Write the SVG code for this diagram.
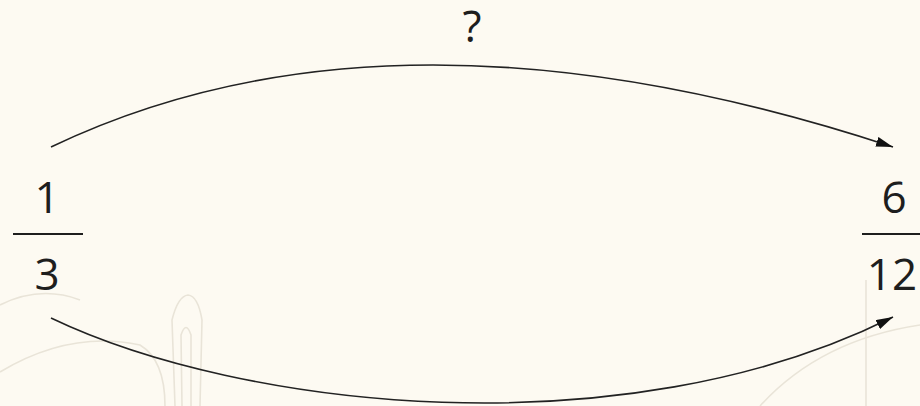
<svg xmlns="http://www.w3.org/2000/svg" width="920" height="406" viewBox="0 0 920 406">
  <style>
    .num { font-family: "Open Sans", "Noto Sans", sans-serif; font-size: 44px; fill: #1e1e1e; text-anchor: middle; }
    .bar { stroke: #1e1e1e; stroke-width: 2.2; }
    .arc { fill: none; stroke: #222; stroke-width: 1.6; }
    .bgsketch { fill: none; stroke: #e9e4d8; stroke-width: 1.6; }
  </style>
  <defs>
    <marker id="arrow" markerUnits="userSpaceOnUse" markerWidth="18" markerHeight="10" refX="17" refY="5" orient="auto">
      <path d="M0,0 L17,5 L0,10 z" fill="#111"/>
    </marker>
  </defs>
  <rect x="0" y="0" width="920" height="406" fill="#fdfaf2"/>
  <g id="background">
    <path class="bgsketch" d="M0,305 Q40,285 80,300"/>
    <path class="bgsketch" d="M0,372 Q70,330 140,345 Q165,360 165,406"/>
    <path class="bgsketch" d="M175,406 L172,320 Q178,296 188,295 Q198,296 202,320 L200,406"/>
    <path class="bgsketch" d="M182,406 L181,335 Q186,320 191,335 L191,406"/>
    <path class="bgsketch" d="M866,280 L866,406"/>
    <path class="bgsketch" d="M760,406 Q820,340 920,325"/>
  </g>
  <g id="connectors">
    <path id="arc-top" class="arc" d="M51,147 Q394,-17 893,147" marker-end="url(#arrow)"/>
    <path id="arc-bottom" class="arc" d="M51,318 C241,409 623,452 893,317" marker-end="url(#arrow)"/>
  </g>
  <g id="node-left">
    <text class="num" x="47" y="213">1</text>
    <line class="bar" x1="13" y1="234" x2="83" y2="234"/>
    <text class="num" x="47" y="290">3</text>
  </g>
  <g id="node-right">
    <text class="num" x="894" y="213">6</text>
    <line class="bar" x1="862" y1="234" x2="920" y2="234"/>
    <text class="num" x="892" y="290">12</text>
  </g>
  <g id="label-top">
    <text class="num" x="472" y="42">?</text>
  </g>
</svg>
